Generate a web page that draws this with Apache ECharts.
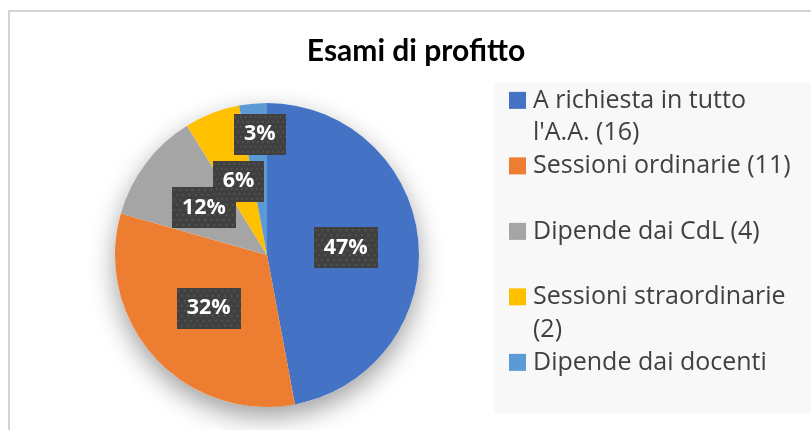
<!DOCTYPE html>
<html>
<head>
<meta charset="utf-8">
<style>
  html, body { margin: 0; padding: 0; background: #ffffff; }
  #chart { width: 811px; height: 430px; }
</style>
<script src="https://cdn.jsdelivr.net/npm/echarts@6/dist/echarts.min.js"></script>
</head>
<body>
<div id="chart"></div>
<script>
// Modalità di svolgimento degli esami di profitto
const categories = [
  "A richiesta in tutto l'A.A. (16)",
  'Sessioni ordinarie (11)',
  'Dipende dai CdL (4)',
  'Sessioni straordinarie (2)',
  'Dipende dai docenti'
];
const values = [16, 11, 4, 2, 1];
const legendLines = [
  ['A richiesta in tutto', "l'A.A. (16)"],
  ['Sessioni ordinarie (11)', ' '],
  ['Dipende dai CdL (4)', ' '],
  ['Sessioni straordinarie', '(2)'],
  ['Dipende dai docenti', ' ']
];
const colors = ['#4472C4', '#ED7D31', '#A5A5A5', '#FFC000', '#5B9BD5'];
const titleText = 'Esami di profitto';

const TEXT_FONT = '"Open Sans"';
const TITLE_FONT = 'Lato';

// Dark dotted fill used behind the data labels
function dottedTile(w, h) {
  const c = document.createElement('canvas');
  c.width = w; c.height = h;
  const g = c.getContext('2d');
  g.fillStyle = '#404040';
  g.fillRect(0, 0, w, h);
  g.fillStyle = 'rgba(255,255,255,0.10)';
  for (let y = 2, r = 0; y < h; y += 5, r++) {
    for (let x = (r % 2) ? 4 : 1; x < w; x += 6) {
      g.fillRect(x, y, 2, 2);
    }
  }
  return c;
}
const labelBg = dottedTile(62, 41);

// Legend entries: coloured square + wrapped text, two lines per entry
const rich = {
  t: { fontFamily: TEXT_FONT, fontSize: 25, color: '#404040', lineHeight: 32.75 },
  g: { width: 7, height: 17 },
  p: { width: 24, height: 17 }
};
colors.forEach((c, i) => {
  rich['s' + i] = { width: 17, height: 17, backgroundColor: c, verticalAlign: 'middle' };
});

const chart = echarts.init(document.getElementById('chart'), null, { renderer: 'canvas' });

chart.setOption({
  animation: false,
  color: colors,
  title: {
    text: titleText,
    left: 411,
    top: 31,
    textAlign: 'center',
    textStyle: { fontFamily: TITLE_FONT, fontSize: 30, fontWeight: 'bold', color: '#000000' }
  },
  legend: {
    orient: 'vertical',
    left: 494,
    top: 82,
    padding: [2, 60, 2, 10],
    backgroundColor: '#f8f8f8',
    itemGap: 0,
    itemWidth: 0,
    itemHeight: 17,
    icon: 'none',
    selectedMode: false,
    data: categories,
    formatter: function (name) {
      const i = categories.indexOf(name);
      const l = legendLines[i];
      return '{s' + i + '|}{g|}{t|' + l[0] + '}\n{p|}{t|' + l[1] + '}';
    },
    textStyle: { rich: rich, lineHeight: 32.75 }
  },
  graphic: [{
    type: 'rect',
    shape: { x: 9, y: 11, width: 900, height: 500 },
    style: { fill: 'none', stroke: '#d4d4d4', lineWidth: 2 },
    silent: true,
    z: -10
  }],
  series: [
    {
      // soft drop shadow under the whole pie
      type: 'pie',
      name: 'ombra',
      center: [267, 255],
      radius: [0, 152],
      silent: true,
      z: 1,
      label: { show: false },
      labelLine: { show: false },
      itemStyle: {
        color: '#ffffff',
        shadowBlur: 26,
        shadowOffsetY: 10,
        shadowColor: 'rgba(0,0,0,0.38)'
      },
      data: [{ value: 1, name: '' }]
    },
    {
      type: 'pie',
      name: 'Esami di profitto',
      center: [267, 255],
      radius: [0, 152],
      startAngle: 90,
      clockwise: true,
      z: 2,
      itemStyle: { borderWidth: 0 },
      label: {
        show: true,
        position: 'inside',
        formatter: p => Math.round(p.percent) + '%',
        fontFamily: TEXT_FONT,
        fontSize: 21.5,
        fontWeight: 'bold',
        color: '#ffffff',
        lineHeight: 21,
        padding: [10, 10],
        backgroundColor: { image: labelBg },
        shadowBlur: 5,
        shadowOffsetX: 2,
        shadowOffsetY: 3,
        shadowColor: 'rgba(0,0,0,0.45)'
      },
      labelLine: { show: false },
      labelLayout: function (params) {
        // the smallest slice's label is lifted above the 6% one
        if (params.dataIndex === 4) return { dy: -42 };
        return {};
      },
      emphasis: { scale: false },
      data: categories.map((n, i) => ({ name: n, value: values[i] }))
    }
  ]
});
</script>
</body>
</html>
